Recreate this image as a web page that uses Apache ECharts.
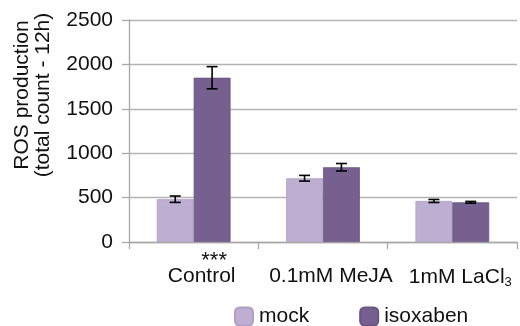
<!DOCTYPE html>
<html>
<head>
<meta charset="utf-8">
<script src="https://cdn.jsdelivr.net/npm/echarts@6/dist/echarts.min.js"></script>
<style>html,body{margin:0;padding:0;background:#fff}#c{width:520px;height:326px}</style>
</head>
<body>
<div id="c"></div>
<script>
var categories = ['Control', '0.1mM MeJA', '1mM LaCl{sub|3}'];
var mockValues = [482, 718, 462];
var mockErrors = [36, 32, 17];
var isoxabenValues = [1850, 842, 447];
var isoxabenErrors = [125, 42, 10];
var significance = ['***', '', ''];
var yTicks = {min: 0, max: 2500, interval: 500};
var seriesNames = ['mock', 'isoxaben'];

var FONT = '"Liberation Sans", Arial, Helvetica, sans-serif';
var MOCK_COLOR = '#bdaed2';
var ISO_COLOR = '#75608f';
var BAR_FRAC = 0.285;

function errorSeries(values, errors, side, labels) {
  return {
    type: 'custom',
    z: 5,
    silent: true,
    data: values.map(function (v, i) { return [i, v, errors[i]]; }),
    renderItem: function (params, api) {
      var i = api.value(0);
      var v = api.value(1);
      var e = api.value(2);
      var band = api.size([1, 0])[0];
      var c = api.coord([i, v]);
      var x = c[0] + side * band * BAR_FRAC / 2;
      var top = api.coord([i, v + e])[1];
      var bot = api.coord([i, v - e])[1];
      var hw = 5.5;
      var st = {stroke: '#000', lineWidth: 1.6};
      var children = [
        {type: 'line', shape: {x1: x, y1: top, x2: x, y2: bot}, style: st},
        {type: 'line', shape: {x1: x - hw, y1: top, x2: x + hw, y2: top}, style: st},
        {type: 'line', shape: {x1: x - hw, y1: bot, x2: x + hw, y2: bot}, style: st}
      ];
      if (labels && labels[params.dataIndex]) {
        var base = api.coord([i, 0]);
        children.push({
          type: 'text',
          style: {
            x: x + 2, y: base[1] + 19, text: labels[params.dataIndex],
            font: '22px ' + FONT, fill: '#111', align: 'center', verticalAlign: 'middle'
          }
        });
      }
      return {type: 'group', children: children};
    }
  };
}

var chart = echarts.init(document.getElementById('c'), null, {renderer: 'canvas'});
chart.setOption({
  animation: false,
  backgroundColor: '#fff',
  textStyle: {fontFamily: FONT},
  grid: {left: 129, right: 3, top: 20, bottom: 84, containLabel: false},
  legend: {
    data: seriesNames,
    left: 229, top: 301,
    itemWidth: 18, itemHeight: 18, itemGap: 50,
    icon: 'roundRect',
    textStyle: {fontSize: 21, color: '#111', fontFamily: FONT, padding: [0, 0, 0, 1]}
  },
  graphic: [{
    type: 'text',
    x: 33, y: 95,
    rotation: Math.PI / 2,
    style: {
      text: 'ROS production\n(total count - 12h)',
      font: '21px ' + FONT,
      lineHeight: 21,
      fill: '#111',
      align: 'center',
      verticalAlign: 'middle'
    }
  }],
  xAxis: {
    type: 'category',
    data: categories,
    axisLine: {lineStyle: {color: '#a8a8a8', width: 1.3}},
    axisTick: {show: true, length: 7, lineStyle: {color: '#a8a8a8', width: 1.3}},
    axisLabel: {
      interval: 0,
      margin: 24,
      fontSize: 21,
      color: '#111',
      fontFamily: FONT,
      padding: [0, 0, 0, 16],
      rich: {sub: {fontSize: 13, verticalAlign: 'bottom', padding: [10, 0, 0, 0], color: '#111', fontFamily: FONT}}
    }
  },
  yAxis: {
    type: 'value',
    min: yTicks.min, max: yTicks.max, interval: yTicks.interval,
    axisLine: {show: true, lineStyle: {color: '#a8a8a8', width: 1.3}},
    axisTick: {show: true, length: 7, lineStyle: {color: '#a8a8a8', width: 1.3}},
    splitLine: {lineStyle: {color: '#b4b4b4', width: 1.3}},
    axisLabel: {margin: 16, fontSize: 21, color: '#111', fontFamily: FONT,
      formatter: function (v) { return String(v); }}
  },
  series: [
    {
      name: seriesNames[0], type: 'bar', data: mockValues,
      barWidth: (BAR_FRAC * 100) + '%', barGap: '0%',
      itemStyle: {color: MOCK_COLOR, borderColor: '#b0a0c6', borderWidth: 0.8}
    },
    {
      name: seriesNames[1], type: 'bar', data: isoxabenValues,
      barWidth: (BAR_FRAC * 100) + '%', barGap: '0%',
      itemStyle: {color: ISO_COLOR, borderColor: '#6a5484', borderWidth: 0.8}
    },
    errorSeries(mockValues, mockErrors, -1, null),
    errorSeries(isoxabenValues, isoxabenErrors, 1, significance)
  ]
});
</script>
</body>
</html>
